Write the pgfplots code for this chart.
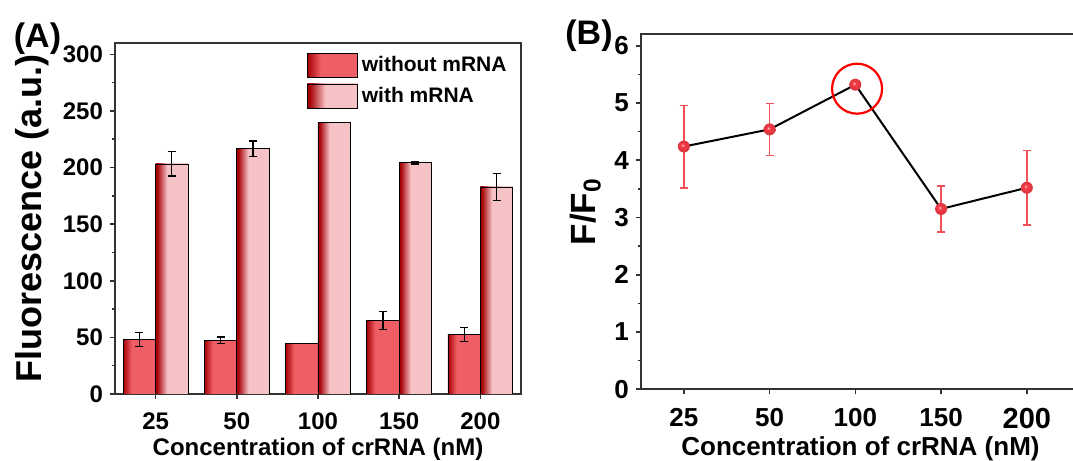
\documentclass[border=0pt]{standalone}
\usepackage{pgfplots}
\usepackage{pgfplotstable}
\pgfplotsset{compat=1.18}
\usepackage{fontspec}
\setmainfont{Liberation Sans}

\definecolor{dkred}{RGB}{165,0,5}
\definecolor{wored}{RGB}{238,94,100}
\definecolor{wipink}{RGB}{245,195,198}
\definecolor{ptred}{RGB}{245,60,70}
\definecolor{errred}{RGB}{240,80,85}

% shadings: the bar maps onto 25bp..75bp
\pgfdeclarehorizontalshading{woshade}{100bp}{color(0bp)=(dkred); color(25bp)=(dkred); color(38bp)=(wored); color(100bp)=(wored)}
\pgfdeclarehorizontalshading{wishade}{100bp}{color(0bp)=(dkred); color(27bp)=(dkred); color(43bp)=(wipink); color(100bp)=(wipink)}
% glossy red marker
\pgfdeclareradialshading{redball}{\pgfpoint{-6bp}{6bp}}{color(0bp)=(white!75!ptred); color(7bp)=(ptred); color(22bp)=(ptred!90!black); color(50bp)=(ptred!90!black)}
\pgfdeclareplotmark{glossy}{\pgfpathcircle{\pgfpointorigin}{\pgfplotmarksize}\pgfshadepath{redball}{0}\pgfusepath{}}

\pgfplotstableread{
x y e
0 4.24 0.72
1 4.54 0.455
2 5.32 0.0
3 3.15 0.40
4 3.52 0.65
}\ratio

\pgfplotsset{
  barerr/.style={error bars/y dir=both, error bars/y explicit,
    error bars/error bar style={black, line width=0.6pt},
    error bars/error mark options={black, rotate=90, mark size=2pt, line width=0.6pt}},
  wobar/.style={ybar, bar width=0.4, bar shift=0pt, draw=black, line width=0.4pt,
    shade, shading=woshade, barerr,
    legend image code/.code={\draw[draw=black, line width=0.4pt, shade, shading=woshade] (0pt,-6pt) rectangle (25pt,6pt);}},
  wibar/.style={ybar, bar width=0.4, bar shift=0pt, draw=black, line width=0.4pt,
    shade, shading=wishade, barerr,
    legend image code/.code={\draw[draw=black, line width=0.4pt, shade, shading=wishade] (0pt,-6pt) rectangle (25pt,6pt);}},
}

\begin{document}
\begin{tikzpicture}
\useasboundingbox (0,0) rectangle (536.5pt,230.5pt);
\pgfplotsset{
  every axis/.append style={
    scale only axis,
    tick align=outside,
    xtick pos=bottom, ytick pos=left,
    major tick length=2.5pt, minor tick length=1.5pt,
    axis line style={line width=1pt, black!80},
    every tick/.style={line width=0.8pt, black!80},
    /pgf/number format/assume math mode=true,
    xtick={0,...,4},
    minor y tick num=1,
    xticklabel style={yshift=-3.5pt},
  },
}
% (A) bars, one plot per bar so each bar gets its own shading
\begin{axis}[
  at={(57.5pt,33.5pt)}, anchor=south west,
  width=203pt, height=175.5pt,
  xmin=-0.5, xmax=4.5, ymin=0, ymax=310,
  ytick={0,50,...,300},
  xticklabels={25,50,100,150,200},
  ticklabel style={font=\bfseries\fontsize{12}{12}\selectfont},
  xlabel={Concentration of crRNA (nM)},
  ylabel={Fluorescence (a.u.)},
  xlabel style={font=\bfseries\fontsize{12}{12}\selectfont, yshift=3pt},
  ylabel style={font=\bfseries\fontsize{18}{18}\selectfont},
  legend style={at={(rel axis cs:0.99,0.985)}, anchor=north east, draw=none, fill=none,
    font=\bfseries\fontsize{10.5}{10.5}\selectfont, row sep=2pt},
  legend cell align=left,
]
\addplot[wobar] coordinates {(-0.2,48.3) +- (0,6.0)};
\addlegendentry{without mRNA}
\addplot[wibar] coordinates {(0.2,203.2) +- (0,10.7)};
\addlegendentry{with mRNA}
\addplot[wobar, forget plot] coordinates {(0.8,47.4) +- (0,3.0)};
\addplot[wobar, forget plot] coordinates {(1.8,44.7) +- (0,0.0)};
\addplot[wobar, forget plot] coordinates {(2.8,65.0) +- (0,7.7)};
\addplot[wobar, forget plot] coordinates {(3.8,52.6) +- (0,6.3)};
\addplot[wibar, forget plot] coordinates {(1.2,216.5) +- (0,7.0)};
\addplot[wibar, forget plot] coordinates {(2.2,239.7) +- (0,0.0)};
\addplot[wibar, forget plot] coordinates {(3.2,204.4) +- (0,1.2)};
\addplot[wibar, forget plot] coordinates {(4.2,182.9) +- (0,11.7)};
\end{axis}
% (B) ratio
\begin{axis}[
  at={(320.5pt,35.85pt)}, anchor=south west,
  width=219.5pt, height=177.5pt,
  xmin=-0.5, xmax=4.62, ymin=0, ymax=6.2,
  ytick={0,...,6},
  xticklabels={25,50,100,150,{\fontsize{14.5}{14.5}\selectfont 200}},
  ticklabel style={font=\bfseries\fontsize{13}{13}\selectfont},
  xlabel={Concentration of crRNA (nM)},
  ylabel={F/F\textsubscript{0}},
  xlabel style={font=\bfseries\fontsize{13}{13}\selectfont, yshift=3pt},
  ylabel style={font=\bfseries\fontsize{17.5}{17.5}\selectfont},
]
\addplot[draw=none, mark=none, color=errred,
  error bars/.cd, y dir=both, y explicit,
  error bar style={color=errred, line width=0.75pt},
  error mark options={color=errred, rotate=90, mark size=2pt, line width=0.75pt}]
  table[x=x, y=y, y error=e]{\ratio};
\addplot[black, line width=1pt, mark=glossy, mark size=3pt]
  table[x=x, y=y]{\ratio};
\addplot[only marks, mark=o, mark size=12.5pt, red, mark options={line width=1.1pt}]
  coordinates {(2.02,5.25)};
\end{axis}
\node[font=\bfseries\fontsize{17}{17}\selectfont] at (18.75pt,211pt) {(A)};
\node[font=\bfseries\fontsize{17}{17}\selectfont] at (294.5pt,212.5pt) {(B)};
\end{tikzpicture}
\end{document}
